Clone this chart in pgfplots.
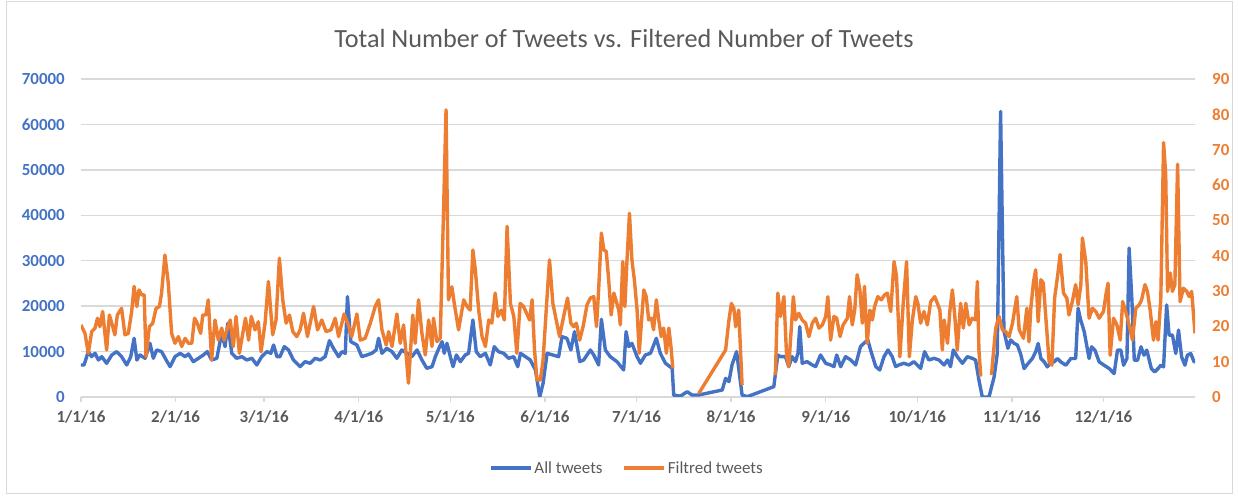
\documentclass[border=0pt]{standalone}
\usepackage{pgfplots}
\pgfplotsset{compat=1.18}
\usepackage{fontspec}
\setmainfont{Carlito}
\definecolor{blueC}{RGB}{68,114,196}
\definecolor{orangeC}{RGB}{237,125,49}
\definecolor{gridC}{RGB}{217,217,217}
\definecolor{txtC}{RGB}{89,89,89}
\begin{document}
\begin{tikzpicture}
\useasboundingbox (-81bp,-99bp) rectangle (1157bp,397bp);
\draw[gridC, line width=1bp] (-74bp,-96bp) rectangle (1151bp,395bp);
\node[text=txtC, font=\fontsize{26.3}{30}\selectfont] at (543bp,358bp) {Total Number of Tweets vs. Filtered Number of Tweets};
\begin{axis}[
  at={(0bp,0bp)}, anchor=south west,
  scale only axis, width=1114bp, height=318bp,
  xmin=0, xmax=365, ymin=0, ymax=70000,
  scaled y ticks=false,
  axis line style={draw=none},
  ymajorgrids, grid style={gridC, line width=1.3bp},
  xtick={0,31,60,91,121,152,182,213,244,274,305,335},
  xticklabels={1/1/16,2/1/16,3/1/16,4/1/16,5/1/16,6/1/16,7/1/16,8/1/16,9/1/16,10/1/16,11/1/16,12/1/16},
  xtick pos=left, tick align=outside, major tick length=5bp,
  x tick style={gridC, line width=1.3bp},
  ytick={0,10000,20000,30000,40000,50000,60000,70000},
  yticklabels={0,10000,20000,30000,40000,50000,60000,70000},
  ytick pos=left, y tick style={draw=none},
  yticklabel style={font=\fontsize{17}{20}\selectfont\bfseries, text=blueC, inner sep=0pt, xshift=-11bp},
  xticklabel style={font=\fontsize{17}{20}\selectfont\bfseries, text=txtC, inner sep=0pt, yshift=-8bp},
]
\addplot[blueC, line width=3.4bp, line join=round] table {
0 7050
1.0 7050
2.4 9990
3.5 8880
4.6 9620
5.7 8150
6.8 8880
8.4 7420
10.1 9250
11.7 9990
13.3 8880
15.0 7050
16.3 8880
17.4 12920
18.3 8150
19.3 9250
21.0 8520
22.6 11820
23.7 8520
24.8 10350
26.4 9990
27.9 8150
29.2 6680
30.8 8880
32.5 9620
34.1 8880
35.2 9470
36.8 7780
38.5 8520
40.1 9250
41.4 9990
42.8 8150
44.5 8520
46.1 14020
47.2 11090
48.1 16230
49.4 9620
51.0 8520
52.7 8880
54.3 8150
56.0 8520
57.6 7050
59.2 8880
60.9 9990
62.2 9620
63.1 11450
64.2 8880
65.2 8880
66.6 11090
68.0 10350
69.6 8150
71.8 6680
73.4 7780
75.1 7420
76.7 8520
78.4 8150
80.0 8880
81.4 12400
82.7 10720
84.4 8880
85.5 9980
86.6 9620
87.3 22100
88.4 12180
90.4 11450
92.0 8880
93.7 9250
95.3 9620
96.7 10350
97.5 12920
98.6 9620
100.2 10720
101.9 9980
103.5 8520
105.1 10350
106.8 9620
108.4 8880
110.1 10350
111.7 8150
113.3 6310
115.0 6680
116.1 8880
117.5 11080
118.3 12180
119.0 9620
119.9 11820
121.0 8880
121.9 6680
123.0 9250
124.3 7780
125.9 9250
127.0 9620
128.4 16960
129.5 9980
130.8 8880
132.5 9620
134.1 7050
135.4 11080
136.8 9980
138.5 9620
140.1 8520
141.8 8880
143.1 6680
144.0 9620
145.6 8880
147.2 8150
148.9 5950
150.3 0
151.4 3020
152.7 9620
156.5 8880
157.6 13290
159.2 12920
160.5 10350
161.7 14390
163.4 7780
164.7 8150
166.9 10350
168.0 9250
169.6 7050
170.5 17110
171.8 10350
173.4 8880
175.6 7780
177.8 5950
178.6 14390
179.5 11090
180.5 11820
182.2 8880
183.3 7420
184.9 9250
186.6 9620
188.5 12920
189.8 9620
191.5 7420
193.7 6310
194.2 400
196.4 200
198.6 1170
200.2 440
202.4 440
210.1 1540
211.2 4110
212.3 3380
213.3 7050
214.8 9990
216.6 440
218.3 70
227.0 2280
228.3 9250
229.2 8880
230.8 8880
231.9 6680
233.0 8880
234.1 7780
234.9 9620
235.5 15490
236.3 7420
237.9 7780
239.6 7050
240.7 6680
242.3 9250
244.0 7420
245.6 7050
246.7 6680
247.6 9250
248.9 6680
250.5 8880
252.2 8150
253.8 7050
255.4 11090
256.5 11820
257.8 12560
258.7 10350
260.4 6680
261.7 5950
263.1 8880
264.4 10350
265.8 8880
266.9 6680
268.0 7050
269.6 7420
271.3 7050
272.9 7780
275.1 6310
276.4 9990
277.8 8150
279.5 8520
281.1 8150
282.8 7050
283.9 8150
284.9 6680
285.8 10350
287.1 8880
288.8 7420
290.4 8880
292.0 8520
293.1 8150
294.2 3740
295.3 0
297.5 0
299.2 4480
300.2 9500
301.3 62850
302.4 14500
303.7 10720
304.6 12560
305.7 11820
306.8 11450
307.9 9400
309.0 6260
310.3 7370
311.7 8470
312.8 9950
313.6 11790
314.5 8470
315.6 7740
316.6 6630
317.5 7370
318.8 7740
319.9 8470
321.0 7740
322.7 7000
324.3 8470
325.9 8470
326.7 19530
327.4 17320
328.7 14370
330.3 8470
331.1 11050
332.2 10320
333.6 7740
335.2 7000
336.9 6260
338.5 5160
339.6 10320
340.7 10320
341.6 7000
342.7 8470
343.4 32790
344.3 21740
345.1 8110
346.2 8110
347.3 11050
348.3 9210
349.2 10320
350.7 6260
351.8 5530
352.9 6260
353.8 7000
354.7 6630
355.7 20270
356.5 13630
357.6 13630
358.7 9580
359.6 14740
360.6 8840
361.7 7000
362.5 9210
363.6 9580
364.7 7740
365.0 8150
};
\end{axis}
\begin{axis}[
  at={(0bp,0bp)}, anchor=south west,
  scale only axis, width=1114bp, height=318bp,
  xmin=0, xmax=365, ymin=0, ymax=90,
  hide x axis,
  axis y line*=right, axis line style={draw=none},
  ytick={0,10,20,30,40,50,60,70,80,90},
  yticklabels={0,10,20,30,40,50,60,70,80,90},
  y tick style={draw=none},
  yticklabel style={font=\fontsize{17}{20}\selectfont\bfseries, text=orangeC, inner sep=0pt, xshift=17bp},
  unbounded coords=jump,
  legend style={at={(0.49,-0.223)}, anchor=center, draw=none, fill=none,
    font=\fontsize{17}{20}\selectfont, text=txtC, legend columns=2,
    /tikz/every even column/.append style={column sep=18bp}},
  legend image code/.code={\draw[#1] (0bp,0bp) -- (40bp,0bp);},
]
\addlegendimage{blueC, line width=3.4bp}
\addlegendentry{All tweets}
\addplot[orangeC, line width=3.4bp, line join=round] table {
0 20.4
1.3 18.0
2.4 12.4
3.5 18.5
4.6 19.5
5.4 22.3
6.2 19.9
7.1 24.2
8.4 13.3
9.3 23.2
10.4 19.9
11.1 17.6
11.9 23.2
13.3 25.1
14.4 17.6
15.5 18.0
16.6 24.2
17.4 31.3
18.3 25.6
19.0 30.3
19.9 28.9
20.7 28.9
21.3 11.4
22.4 19.9
23.5 20.9
24.6 25.1
25.7 25.6
26.4 29.4
27.5 40.2
28.6 32.2
29.7 18.0
30.8 15.2
31.9 17.1
33.0 14.3
34.1 16.6
35.2 15.2
36.3 15.2
37.2 22.3
38.1 20.9
39.2 18.0
39.9 23.2
40.9 23.2
41.7 27.5
42.8 10.5
43.9 21.8
45.0 16.1
46.1 19.5
46.9 16.1
47.8 19.0
48.9 21.8
49.9 14.3
50.8 22.8
51.9 12.4
53.0 18.0
53.9 22.3
54.9 16.1
55.8 22.8
57.0 19.0
58.1 21.3
59.0 12.8
60.3 20.9
61.4 32.7
62.8 17.6
63.9 21.8
65.0 39.3
66.1 27.5
67.2 20.9
68.3 23.2
69.4 18.5
70.7 17.1
71.8 19.0
72.9 23.7
74.2 17.1
76.2 25.6
77.5 19.0
78.9 21.8
80.3 18.5
81.9 19.0
83.3 22.3
84.4 17.1
86.2 23.5
87.6 20.4
88.7 17.1
90.4 23.5
91.5 16.1
93.1 16.6
94.8 20.9
96.4 25.6
97.5 27.5
98.6 19.0
100.0 14.7
100.8 18.5
101.9 14.3
103.5 23.5
104.6 15.2
105.7 20.4
107.3 3.9
108.7 23.2
109.5 15.2
110.6 27.5
111.7 18.0
112.8 11.9
113.9 21.8
115.0 14.3
115.5 22.3
116.6 15.7
117.7 16.6
118.8 53.0
119.6 81.3
120.4 27.5
121.5 31.2
122.3 26.5
123.7 19.0
125.4 27.5
126.5 25.6
127.5 24.6
128.4 41.6
129.2 36.0
130.3 24.6
131.4 17.1
132.5 14.3
133.6 21.8
134.6 20.9
135.7 29.4
136.6 22.8
137.7 24.6
138.7 21.8
139.6 48.3
140.7 26.5
141.8 22.8
142.8 12.4
143.9 26.5
145.0 25.6
146.1 23.5
147.0 21.8
147.8 27.5
148.6 13.3
149.4 4.8
150.5 4.8
151.4 10.5
152.5 25.6
153.5 38.8
154.6 26.5
155.7 21.8
156.8 17.1
157.9 21.8
159.4 28.0
160.5 20.9
161.4 19.9
162.3 20.9
163.4 16.1
164.5 19.9
165.8 26.1
166.9 28.0
168.0 28.4
168.9 19.9
169.6 30.3
170.5 46.4
171.3 41.6
172.1 41.2
172.9 33.1
173.7 23.2
174.6 29.4
175.4 27.0
176.2 24.6
176.7 20.4
177.5 38.3
178.2 25.6
178.9 38.8
179.7 52.0
180.5 38.8
181.3 33.2
182.2 24.6
182.9 12.4
183.6 20.9
184.4 30.3
185.2 28.4
186.0 21.8
186.9 22.3
187.6 19.0
188.5 27.5
189.3 21.8
190.1 17.1
190.9 19.5
191.8 12.4
192.6 19.5
193.3 14.3
193.9 8.1
198.0 nan
202.4 1.0
211.2 13.3
212.3 21.8
213.1 26.5
213.9 25.1
214.5 19.9
215.5 24.6
216.6 3.4
222.0 nan
227.5 6.2
228.3 29.4
229.2 22.8
230.3 28.4
231.2 11.4
231.9 8.6
233.4 28.4
234.1 21.8
235.2 23.7
236.3 21.8
237.4 20.9
238.5 17.1
239.6 20.9
240.7 22.3
241.8 19.5
242.9 20.4
244.0 22.8
244.7 28.4
245.6 16.1
246.7 22.8
247.6 22.3
248.7 17.1
249.7 20.4
251.1 22.3
251.8 28.4
252.7 20.4
253.5 24.6
254.3 34.6
255.2 30.3
256.0 20.9
256.7 31.3
257.6 15.2
258.5 24.6
259.3 21.8
260.0 25.6
261.1 28.4
262.2 27.5
263.3 28.9
264.2 29.4
265.3 24.2
266.4 38.3
267.2 34.1
268.3 11.4
269.4 26.5
270.5 38.3
271.4 11.4
272.4 21.8
273.5 28.4
274.2 26.5
275.1 20.9
276.2 24.2
277.3 20.4
278.4 27.0
279.7 28.4
280.6 26.5
281.4 24.6
282.2 13.3
282.8 21.8
283.9 15.2
284.7 24.6
285.5 30.3
286.3 22.8
287.1 13.3
288.2 26.5
289.1 19.5
289.9 26.5
291.0 20.4
292.0 22.3
293.1 21.8
293.7 32.7
294.2 13.3
294.8 5.8
296.5 nan
298.3 6.2
299.7 19.5
300.8 22.8
301.9 19.0
303.0 18.5
304.1 17.1
305.2 20.9
306.6 28.4
307.4 19.0
308.8 16.6
309.9 25.1
310.6 15.6
311.2 25.1
312.1 32.7
312.8 36.0
313.6 21.3
314.5 33.2
315.3 32.2
316.3 20.4
317.2 10.0
318.1 9.0
319.0 28.0
320.1 35.1
320.8 40.3
321.9 29.4
323.0 28.0
323.7 23.2
324.8 27.0
325.9 31.8
326.7 26.1
327.6 31.8
328.1 45.0
329.2 38.4
330.3 22.3
331.4 25.1
332.5 24.2
333.6 22.3
335.0 24.2
335.8 28.9
336.5 32.2
337.2 11.8
338.3 22.3
339.4 20.4
340.5 16.1
341.3 27.0
342.3 24.2
343.4 20.4
344.5 16.1
345.6 25.1
346.7 26.1
347.5 27.5
348.6 31.8
349.4 29.9
350.3 24.6
351.4 16.1
352.2 21.3
352.9 16.1
353.8 28.0
354.7 72.0
355.4 63.0
356.0 29.9
356.9 35.1
357.6 29.9
358.4 31.8
359.3 65.9
360.1 27.0
361.2 30.8
362.3 29.9
363.1 28.4
363.9 29.9
365.0 18.0
};
\addlegendentry{Filtred tweets}
\end{axis}
\end{tikzpicture}
\end{document}
